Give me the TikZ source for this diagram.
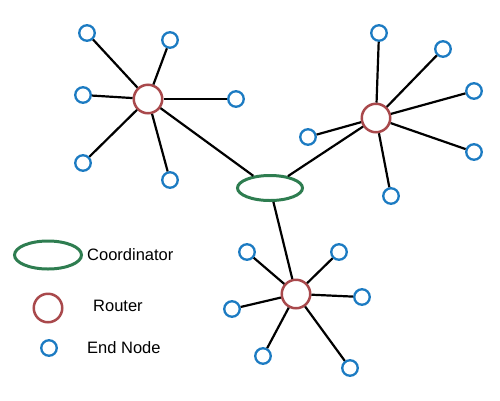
\documentclass[tikz,border=0pt]{standalone}
\usepackage{fontspec}
\setmainfont{Liberation Sans}
\usetikzlibrary{shapes.geometric}
\definecolor{endblue}{HTML}{1C7BC2}
\definecolor{routerred}{HTML}{A9494C}
\definecolor{coordgreen}{HTML}{2E7D50}
\begin{document}
\begin{tikzpicture}[x=1pt,y=-1pt,
  endnode/.style={circle,draw=endblue,line width=2.3pt,fill=white,inner sep=0pt,minimum size=15.5pt},
  router/.style={circle,draw=routerred,line width=2.5pt,fill=white,inner sep=0pt,minimum size=28.5pt},
  coord/.style={ellipse,draw=coordgreen,line width=3pt,fill=white,inner sep=0pt,minimum width=65pt,minimum height=25pt},
  link/.style={draw=black,line width=2.2pt},
  legend/.style={anchor=west,font=\fontsize{16.5}{19}\selectfont,inner sep=0pt}]
\useasboundingbox (0,0) rectangle (500,400);

% coordinator and routers
\node[coord] (C) at (270,188) {};
\node[router] (R1) at (148,99) {};
\node[router] (R2) at (376,118) {};
\node[router] (R3) at (296,294) {};

% end nodes of the first router
\node[endnode] (a1) at (87,33) {};
\node[endnode] (a2) at (170,40) {};
\node[endnode] (a3) at (83,95) {};
\node[endnode] (a4) at (236,99) {};
\node[endnode] (a5) at (83,163) {};
\node[endnode] (a6) at (170,180) {};

% end nodes of the second router
\node[endnode] (b1) at (379,33) {};
\node[endnode] (b2) at (443,49) {};
\node[endnode] (b3) at (474,91) {};
\node[endnode] (b4) at (308,137) {};
\node[endnode] (b5) at (474,152) {};
\node[endnode] (b6) at (391,196) {};

% end nodes of the third router
\node[endnode] (c1) at (247,252) {};
\node[endnode] (c2) at (339,252) {};
\node[endnode] (c3) at (362,297) {};
\node[endnode] (c4) at (232,309) {};
\node[endnode] (c5) at (263,356) {};
\node[endnode] (c6) at (350,368) {};

% links
\foreach \e in {a1,a2,a3,a4,a5,a6} \draw[link] (R1) -- (\e);
\foreach \e in {b1,b2,b3,b4,b5,b6} \draw[link] (R2) -- (\e);
\foreach \e in {c1,c2,c3,c4,c5,c6} \draw[link] (R3) -- (\e);
\draw[link] (R1) -- (C);
\draw[link] (R2) -- (C);
\draw[link] (R3) -- (C);

% legend
\node[coord,minimum width=67pt,minimum height=28pt] (lc) at (48,255) {};
\node[legend] (lct) at (87,255) {Coordinator};
\node[router] (lr) at (48,308) {};
\node[legend] (lrt) at (93,306) {Router};
\node[endnode] (le) at (49,348) {};
\node[legend] (let) at (87,348) {End Node};
\end{tikzpicture}
\end{document}
